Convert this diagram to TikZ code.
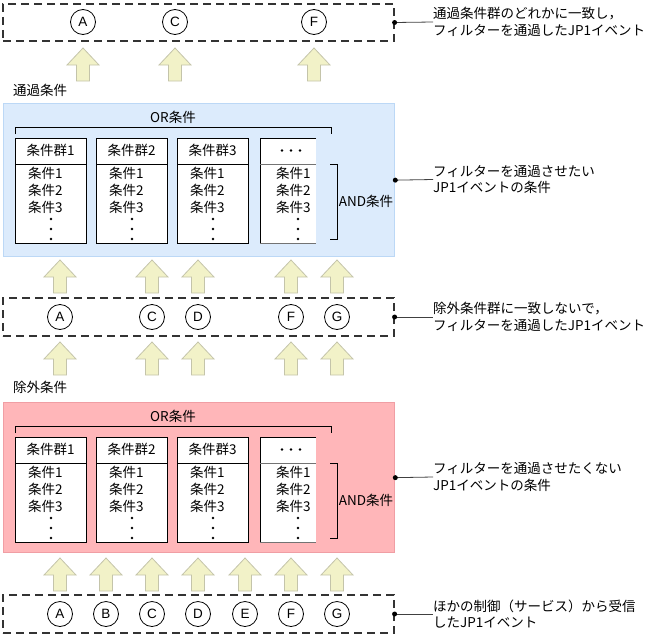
\documentclass[tikz,border=0pt]{standalone}
\usepackage{fontspec}
\setmainfont{Noto Sans CJK JP}
\newfontfamily\latinsans{Liberation Sans}
\definecolor{arrowfill}{RGB}{242,242,200}
\definecolor{arrowedge}{RGB}{196,196,170}
\definecolor{passfill}{RGB}{220,235,252}
\definecolor{passedge}{RGB}{188,216,246}
\definecolor{exclfill}{RGB}{255,182,185}
\definecolor{excledge}{RGB}{240,158,164}
\tikzset{
  evbox/.style={rectangle, draw=black!80, line width=1.2pt, dash pattern=on 8pt off 5pt,
    minimum width=391pt, minimum height=37pt, inner sep=0pt},
  ev/.style={circle, draw, line width=0.8pt, minimum size=25pt, inner sep=0pt,
    font=\latinsans\fontsize{13.5}{13.5}\selectfont},
  jtext/.style={inner sep=0pt, font=\fontsize{13.5}{16.5}\selectfont},
  note/.style={jtext, anchor=west, align=left},
  callout/.style={draw=black!75, line width=0.8pt},
  calldot/.style={circle, fill=black, inner sep=0pt, minimum size=5pt},
  grpbox/.style={draw=black, line width=0.8pt, fill=white},
  panelbox/.style={rectangle, line width=1.3pt, inner sep=0pt, anchor=north west, minimum width=391pt},
  upar/.pic={\draw[fill=arrowfill, draw=arrowedge, line width=0.8pt]
     (-6.5,0) -- (-6.5,-16) -- (-16,-16) -- (0,-33) -- (16,-16) -- (6.5,-16) -- (6.5,0) -- cycle;}
}
% #1 prefix, #2 top, #3 height, #4 fill, #5 edge
\newcommand\condpanel[5]{%
  \node[panelbox, fill=#4, draw=#5, minimum height=#3] (#1panel) at (3,#2) {};
  \node[jtext] (#1or) at (173,#2+14) {OR条件};
  \draw[line width=0.8pt] (15,#2+31) -- (15,#2+24.5) -- (331,#2+24.5) -- (331,#2+31);
  \foreach \bx/\hd/\k in {15/条件群1/1, 96/条件群2/2, 177/条件群3/3}{
    \draw[grpbox] (\bx,#2+35.5) rectangle ++(71,105);
    \draw[line width=0.8pt] (\bx,#2+61) -- ++(71,0);
    \node[jtext] (#1h\k) at (\bx+35.5,#2+47.5) {\hd};
    \node[jtext, anchor=west] (#1a\k) at (\bx+13,#2+70.5) {条件1};
    \node[jtext, anchor=west] (#1b\k) at (\bx+13,#2+87.5) {条件2};
    \node[jtext, anchor=west] (#1c\k) at (\bx+13,#2+104) {条件3};
    \foreach \dy in {116,126,136}{\fill (\bx+36,#2+\dy) circle (1.4);}
  }
  \fill[white] (260,#2+35.5) rectangle (316,#2+140.5);
  \draw[line width=0.8pt] (316,#2+35.5) -- (260,#2+35.5) -- (260,#2+140.5);
  \draw[line width=0.8pt, black!55] (260,#2+140.5) -- (316,#2+140.5);
  \draw[line width=0.8pt, black!55] (260,#2+61) -- (316,#2+61);
  \foreach \dx in {282,291,300}{\fill (\dx,#2+47.5) circle (1.4);}
  \node[jtext, anchor=west] (#1a4) at (276,#2+70.5) {条件1};
  \node[jtext, anchor=west] (#1b4) at (276,#2+87.5) {条件2};
  \node[jtext, anchor=west] (#1c4) at (276,#2+104) {条件3};
  \foreach \dy in {116,126,136}{\fill (298,#2+\dy) circle (1.4);}
  \draw[line width=0.8pt] (330,#2+61) -- (337,#2+61) -- (337,#2+136) -- (330,#2+136);
  \node[jtext] (#1and) at (366,#2+98.5) {AND条件};
}
\begin{document}
\begin{tikzpicture}[x=1pt,y=-1pt]
\useasboundingbox (0,0) rectangle (655,637);

% ---- top: passed events
\node[evbox] (top) at (198.5,22.5) {};
\foreach \n/\x in {A/83, C/175, F/314}{\node[ev] (t\n) at (\x,22) {\n};}
\foreach \x in {83,175,314}{\pic at (\x,81) {upar};}
\node[jtext, anchor=west] (passlbl) at (13,90) {通過条件};

% ---- pass panel
\condpanel{p}{103}{153pt}{passfill}{passedge}

% ---- middle: not excluded
\foreach \x in {60,152,198,291,337}{\pic at (\x,293) {upar};}
\node[evbox, minimum height=38pt] (mid) at (198.5,317) {};
\foreach \n/\x in {A/60, C/152, D/198, F/291, G/337}{\node[ev] (m\n) at (\x,317) {\n};}
\foreach \x in {60,152,198,291,337}{\pic at (\x,375) {upar};}
\node[jtext, anchor=west] (excllbl) at (13,387) {除外条件};

% ---- exclusion panel
\condpanel{x}{402}{150pt}{exclfill}{excledge}

% ---- bottom: received events
\foreach \x in {60,106,152,198,245,291,337}{\pic at (\x,591) {upar};}
\node[evbox, minimum height=38pt] (bot) at (198.5,614) {};
\foreach \n/\x in {A/60, B/106, C/152, D/198, E/245, F/291, G/337}{\node[ev] (b\n) at (\x,614) {\n};}

% ---- callouts
\node[note] (n1) at (433,22) {通過条件群のどれかに一致し，\\フィルターを通過したJP1イベント};
\node[note] (n2) at (433,179.5) {フィルターを通過させたい\\JP1イベントの条件};
\node[note] (n3) at (433,317) {除外条件群に一致しないで，\\フィルターを通過したJP1イベント};
\node[note] (n4) at (433,477) {フィルターを通過させたくない\\JP1イベントの条件};
\node[note] (n5) at (433,614) {ほかの制御（サービス）から受信\\したJP1イベント};
\foreach \a/\b in {top/n1, ppanel/n2, mid/n3, xpanel/n4, bot/n5}{
  \draw[callout] (\a.east) -- (\b.west);
  \node[calldot] (\a dot) at (\a.east) {};
}
\end{tikzpicture}
\end{document}
